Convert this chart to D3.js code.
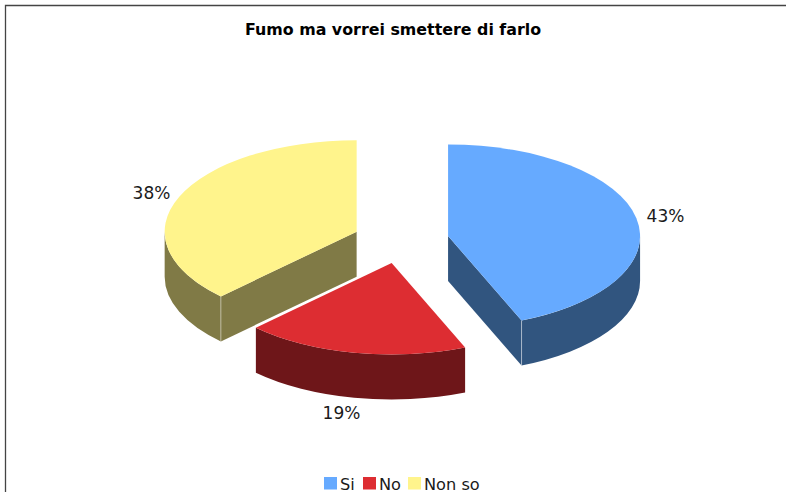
<!DOCTYPE html>
<html>
<head>
<meta charset="utf-8">
<script src="https://cdn.jsdelivr.net/npm/d3@7/dist/d3.min.js"></script>
<style>
html,body{margin:0;padding:0;background:#fff;overflow:hidden}
svg{display:block}
text{font-family:"DejaVu Sans",sans-serif;fill:#1a1a1a}
</style>
</head>
<body>
<script>
const categories = ["Si", "No", "Non so"];
const shares = [43.75, 18.75, 37.5];
const labels = ["43%", "19%", "38%"];
const topColors = ["#66aaff", "#dd2d32", "#fff48c"];
const wallColors = ["#31557f", "#6e1619", "#807a46"];
const title = "Fumo ma vorrei smettere di farlo";

const W = 786, H = 492;
const cx = 401, cy = 240.5, rx = 192, ry = 91.5, depth = 45, blowX = 48, blowY = 23;

const X = d3.scaleLinear().domain([-1, 1]).range([cx - rx, cx + rx]);
const Y = d3.scaleLinear().domain([-1, 1]).range([cy - ry, cy + ry]);

const svg = d3.select("body").append("svg").attr("width", W).attr("height", H);
svg.append("rect").attr("width", W).attr("height", H).attr("fill", "#fff");

svg.append("path").attr("d", `M5.5,${H}V5.5H${W}`).attr("fill", "none")
  .attr("stroke", "#444").attr("stroke-width", 1.3);

const pie = d3.pie().sort(null).value(d => d).startAngle(0).endAngle(2 * Math.PI);
const arcs = pie(shares).map((a, i) => {
  const mid = (a.startAngle + a.endAngle) / 2;
  const dx = Math.sin(mid) * blowX, dy = -Math.cos(mid) * blowY;
  return {i, a0: a.startAngle, a1: a.endAngle, dx, dy};
});

const px = (t, d) => X(Math.sin(t)) + d.dx;
const py = (t, d) => Y(-Math.cos(t)) + d.dy;
const ell = (t, sweep, large, off) => `A${rx},${ry} 0 ${large} ${sweep} ${px(t.v, t.d)},${py(t.v, t.d) + off}`;

function outerWall(d) {
  const s = Math.max(d.a0, Math.PI / 2), e = Math.min(d.a1, 3 * Math.PI / 2);
  if (e <= s) return null;
  return `M${px(s, d)},${py(s, d)}` + ell({v: e, d}, 1, 0, 0) +
         `V${py(e, d) + depth}` + ell({v: s, d}, 0, 0, depth) + "Z";
}
function radialWall(d, t) {
  const ax = X(0) + d.dx, ay = Y(0) + d.dy;
  return `M${ax},${ay}L${px(t, d)},${py(t, d)}V${py(t, d) + depth}L${ax},${ay + depth}Z`;
}
function topFace(d) {
  const ax = X(0) + d.dx, ay = Y(0) + d.dy;
  const large = d.a1 - d.a0 > Math.PI ? 1 : 0;
  return `M${ax},${ay}L${px(d.a0, d)},${py(d.a0, d)}` + ell({v: d.a1, d}, 1, large, 0) + "Z";
}

// back to front: Non so, Si, No
[2, 0, 1].forEach(k => {
  const d = arcs[k], g = svg.append("g");
  const wallAngle = k === 0 ? d.a1 : k === 2 ? d.a0 : null;
  const wall = p => g.append("path").attr("d", p).attr("fill", wallColors[k]);
  if (wallAngle !== null) wall(radialWall(d, wallAngle));
  const o = outerWall(d);
  if (o) wall(o);
  if (wallAngle !== null) {
    g.append("line")
      .attr("x1", px(wallAngle, d)).attr("x2", px(wallAngle, d))
      .attr("y1", py(wallAngle, d)).attr("y2", py(wallAngle, d) + depth)
      .attr("stroke", "#fff").attr("stroke-opacity", 0.45).attr("stroke-width", 1);
  }
  g.append("path").attr("d", topFace(d)).attr("fill", topColors[k]);
});

svg.append("text").attr("x", 393).attr("y", 35).attr("text-anchor", "middle")
  .attr("font-size", 15.85).attr("font-weight", "bold").style("fill", "#000").text(title);

const labelAt = [[665.5, 222], [341.5, 419], [151.5, 199]];
labels.forEach((t, i) => svg.append("text").attr("x", labelAt[i][0]).attr("y", labelAt[i][1])
  .attr("text-anchor", "middle").attr("font-size", 17).text(t));

const legendX = [324, 363, 408];
categories.forEach((c, i) => {
  svg.append("rect").attr("x", legendX[i]).attr("y", 477).attr("width", 13).attr("height", 12.5)
    .attr("fill", topColors[i]);
  svg.append("text").attr("x", legendX[i] + 16).attr("y", 490).attr("font-size", 16.2).text(c);
});
</script>
</body>
</html>
